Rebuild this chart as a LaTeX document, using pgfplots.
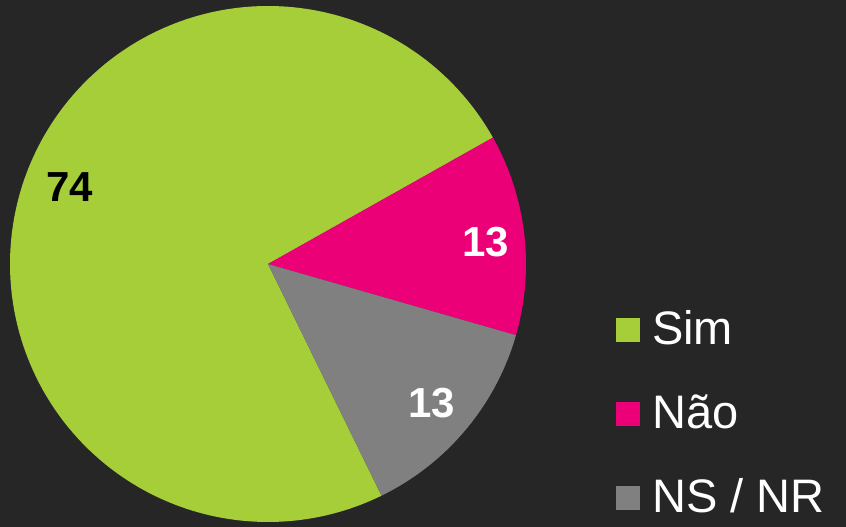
\documentclass[border=0pt]{standalone}
\usepackage{fontspec}
\setmainfont{Liberation Sans}
\usepackage{pgfplots}
\pgfplotsset{compat=1.18}
\definecolor{bgc}{HTML}{262626}
\definecolor{simc}{HTML}{A6CE39}
\definecolor{naoc}{HTML}{EC0078}
\definecolor{nsc}{HTML}{808080}
% shares (percent), clockwise from the first slice
\def\vSim{74.1}
\def\vNao{12.6}
\def\vNS{13.3}
\def\startang{296.1}
\pgfmathsetmacro{\aA}{\startang}
\pgfmathsetmacro{\aB}{\aA-3.6*\vSim}
\pgfmathsetmacro{\aC}{\aB-3.6*\vNao}
\pgfmathsetmacro{\aD}{\aC-3.6*\vNS}
\def\cx{268}\def\cy{263}\def\rr{258}
\begin{document}
\begin{tikzpicture}
\fill[bgc] (0,0) rectangle (846pt,527pt);
\begin{axis}[
  at={(0,0)}, anchor=south west,
  width=846pt, height=527pt, scale only axis,
  xmin=0, xmax=846, ymin=0, ymax=527,
  hide axis, clip=false,
  legend image code/.code={\fill[#1] (0pt,2pt) rectangle (24pt,26pt);},
  legend style={at={(axis cs:616,217)}, anchor=north west, draw=none, fill=none,
    text=white, font=\fontsize{47}{47}\selectfont, inner sep=0pt,
    row sep=40pt, column sep=12pt,
    nodes={inner sep=0pt, text height=34pt, text depth=10pt, anchor=base west}},
  legend cell align=left,
]
\addplot[fill=simc, draw=none, domain=\aB:\aA, samples=200, variable=\t]
  ({\cx+\rr*cos(\t)},{\cy+\rr*sin(\t)}) -- (axis cs:\cx,\cy) -- cycle;
\addlegendentry{Sim}
\addplot[fill=naoc, draw=none, domain=\aC:\aB, samples=60, variable=\t]
  ({\cx+\rr*cos(\t)},{\cy+\rr*sin(\t)}) -- (axis cs:\cx,\cy) -- cycle;
\addlegendentry{Não}
\addplot[fill=nsc, draw=none, domain=\aD:\aC, samples=60, variable=\t]
  ({\cx+\rr*cos(\t)},{\cy+\rr*sin(\t)}) -- (axis cs:\cx,\cy) -- cycle;
\addlegendentry{NS / NR}
\node[font=\bfseries\fontsize{42}{42}\selectfont, text=black, inner sep=0pt] at (axis cs:70,339.5) {74};
\node[font=\bfseries\fontsize{42}{42}\selectfont, text=white, inner sep=0pt] at (axis cs:485.5,284.5) {13};
\node[font=\bfseries\fontsize{42}{42}\selectfont, text=white, inner sep=0pt] at (axis cs:431.5,124) {13};
\end{axis}
\end{tikzpicture}
\end{document}
